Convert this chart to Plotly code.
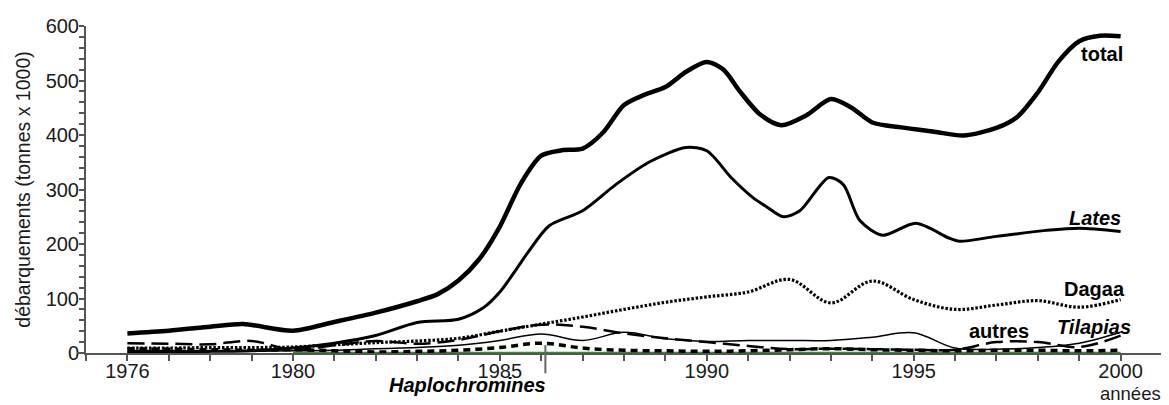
import plotly.graph_objects as go

# ---------------- data (thousand tonnes) ----------------
years = [1976, 1977, 1978, 1979, 1980, 1981, 1982, 1983, 1984, 1985, 1986, 1987, 1988,
         1989, 1990, 1991, 1992, 1993, 1994, 1995, 1996, 1997, 1998, 1999, 2000]

total_years = [1976, 1977, 1978, 1978.8, 1980, 1981, 1982, 1983, 1983.5, 1984, 1984.5, 1985,
               1985.5, 1986, 1986.5, 1987, 1987.5, 1988, 1988.5, 1989, 1989.5, 1990, 1990.4,
               1990.8, 1991.3, 1991.8, 1992.4, 1993, 1993.5, 1994, 1994.7, 1995.5, 1996.2,
               1997, 1997.5, 1998, 1998.5, 1999, 1999.5, 2000]
total = [36, 41, 48, 53, 41, 57, 74, 95, 108, 133, 172, 232,
         310, 362, 372, 375, 405, 455, 474, 488, 516, 534, 520,
         480, 437, 418, 436, 466, 450, 423, 414, 406, 399,
         413, 433, 478, 535, 572, 582, 581]

lates_years = [1976, 1977, 1978, 1979, 1980, 1981, 1982, 1983, 1984, 1984.6, 1985, 1985.4,
               1985.7, 1986.2, 1987, 1987.8, 1988.6, 1989.5, 1990, 1990.6, 1991.1, 1991.45,
               1991.85, 1992.25, 1992.95, 1993.3, 1993.7, 1994.25, 1995.05, 1995.85, 1996.1,
               1997, 1998.2, 1999, 2000]
lates = [3, 3, 3, 4, 9, 18, 32, 56, 62, 83, 112, 154,
         187, 234, 261, 309, 350, 377, 371, 321, 286, 268,
         250, 261, 322, 309, 243, 216, 238, 211, 205,
         214, 225, 229, 223]

dagaa = [9, 9, 10, 10, 11, 15, 19, 22, 27, 40, 53, 66, 80,
         93, 103, 112, 135, 92, 132, 98, 80, 88, 96, 84, 98]

tilapias = [2, 2, 3, 3, 4, 5, 8, 10, 14, 23, 35, 23, 38,
            26, 21, 23, 23, 23, 29, 37, 9, 7, 10, 18, 38]

autres = [18, 17, 16, 22, 6, 14, 22, 17, 24, 40, 52, 48, 36,
          27, 20, 13, 7, 8, 7, 6, 6, 20, 20, 11, 32]

haplochromines = [8, 7, 6, 5, 6, 4, 2, 3, 5, 10, 18, 9, 5,
                  4, 3, 4, 6, 8, 6, 5, 4, 5, 5, 4, 5]

zero_blue_years = [1976, 1978]
zero_green_years = [1980, 2000]

x_tickvals = [1976, 1980, 1985, 1990, 1995, 2000]
x_ticktext = ["1976", "1980", "1985", "1990", "1995", "2000"]

# ---------------- figure ----------------
fig = go.Figure()

fig.add_trace(go.Scatter(x=zero_blue_years, y=[0] * len(zero_blue_years), mode="lines",
                         line=dict(color="#2a2aa8", width=2.5), hoverinfo="skip"))
fig.add_trace(go.Scatter(x=zero_green_years, y=[0] * len(zero_green_years), mode="lines",
                         line=dict(color="#1f9a1f", width=2.5), hoverinfo="skip"))

fig.add_trace(go.Scatter(x=years, y=haplochromines, mode="lines", name="Haplochromines",
                         line=dict(color="#000", width=3.5, dash="7px,5px", shape="spline")))
fig.add_trace(go.Scatter(x=years, y=autres, mode="lines", name="autres",
                         line=dict(color="#000", width=2.5, dash="17px,7px", shape="spline")))
fig.add_trace(go.Scatter(x=years, y=tilapias, mode="lines", name="Tilapias",
                         line=dict(color="#000", width=1.5, shape="spline")))
fig.add_trace(go.Scatter(x=years, y=dagaa, mode="lines", name="Dagaa",
                         line=dict(color="#000", width=3.2, dash="2.5px,1.8px", shape="spline")))
fig.add_trace(go.Scatter(x=lates_years, y=lates, mode="lines", name="Lates",
                         line=dict(color="#000", width=3, shape="spline", smoothing=0.8)))
fig.add_trace(go.Scatter(x=total_years, y=total, mode="lines", name="total",
                         line=dict(color="#000", width=4.5, shape="spline", smoothing=0.8)))

axis_color = "#555"
fig.update_xaxes(range=[1975, 2001], showline=True, linecolor=axis_color, linewidth=2,
                 ticks="outside", ticklen=6, tickwidth=1.5, tickcolor=axis_color,
                 tickvals=x_tickvals, ticktext=x_ticktext, showgrid=False, zeroline=False,
                 tickfont=dict(size=20, color="#1a1a1a"), ticklabelstandoff=-7,
                 ticklabeloverflow="allow",
                 minor=dict(dtick=1, tick0=1975, ticks="outside", ticklen=6, tickwidth=1.5,
                            tickcolor=axis_color, showgrid=False))
fig.update_yaxes(range=[0, 600], showline=True, linecolor=axis_color, linewidth=2,
                 ticks="outside", ticklen=5, tickwidth=1.5, tickcolor=axis_color,
                 dtick=100, tick0=0, showgrid=False, zeroline=False,
                 tickfont=dict(size=20, color="#1a1a1a"), ticklabelstandoff=-4,
                 ticklabeloverflow="allow",
                 title=dict(text="débarquements (tonnes x 1000)", font=dict(size=19.5, color="#1a1a1a"),
                            standoff=10),
                 minor=dict(dtick=20, ticks="outside", ticklen=5, tickwidth=1.5,
                            tickcolor=axis_color, showgrid=False))

bold = dict(size=20, color="#000", family="Liberation Sans, Arial, sans-serif")
labels = [
    ("<b>total</b>", 1999.55, 548),
    ("<b><i>Lates</i></b>", 1999.38, 247),
    ("<b>Dagaa</b>", 1999.36, 118),
    ("<b><i>Tilapias</i></b>", 1999.36, 48),
    ("<b>autres</b>", 1997.07, 41),
]
for txt, lx, ly in labels:
    fig.add_annotation(x=lx, y=ly, xref="x", yref="y", text=txt, showarrow=False,
                       font=bold, xanchor="center", yanchor="middle")

fig.add_annotation(x=0.3547, y=-0.098, xref="paper", yref="paper",
                   text="<b><i>Haplochromines</i></b>", showarrow=False, font=bold,
                   xanchor="center", yanchor="middle")
fig.add_annotation(x=0.971, y=-0.1246, xref="paper", yref="paper", text="années",
                   showarrow=False, font=dict(size=18.5, color="#1a1a1a"),
                   xanchor="center", yanchor="middle")

# pointer from the Haplochromines label to its curve
fig.add_shape(type="line", xref="x", yref="paper", x0=1986.1, x1=1986.1,
              y0=0.024, y1=-0.062, line=dict(color="#666", width=2))
# x-axis line stub extending left of the y axis
fig.add_shape(type="line", xref="paper", yref="paper", x0=-0.0084, x1=0, y0=0, y1=0,
              line=dict(color=axis_color, width=2))

# the page body adds an 8px offset, so the figure is sized to end at the window edge
fig.update_layout(width=1161, height=397, margin=dict(l=78, r=7, t=8, b=52),
                  plot_bgcolor="white", paper_bgcolor="white", showlegend=False,
                  font=dict(family="Liberation Sans, Arial, sans-serif", size=18, color="#1a1a1a"))

fig.write_html("out.html")
